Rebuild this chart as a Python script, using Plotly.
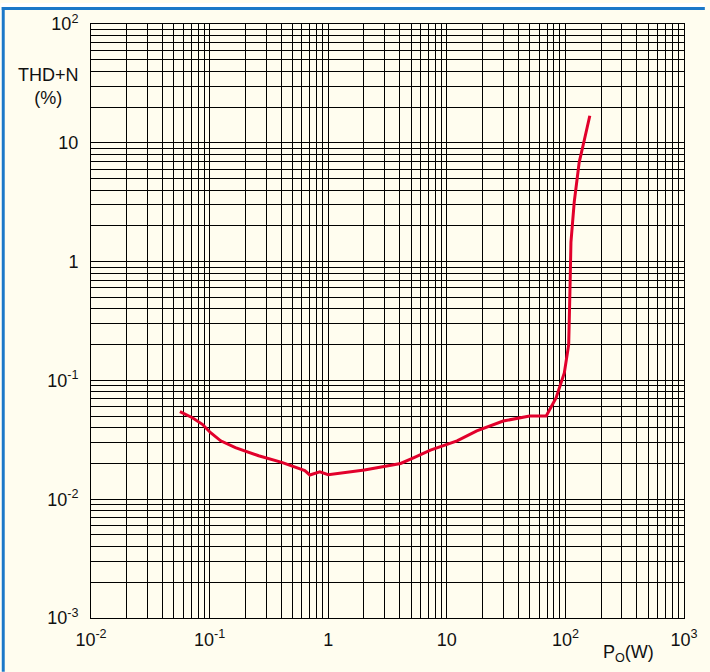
import plotly.graph_objects as go

# Output power (W)
power_w = [0.0562, 0.0716, 0.0869, 0.102, 0.124, 0.165, 0.259, 0.406, 0.635, 0.70,
           0.85, 1.0, 2.02, 4.08, 5.29, 7.28, 12.2, 17.9, 29.9, 49.9, 68.9,
           83.4, 97.9, 106.6, 109.2, 111.4, 118.7, 130.7, 143.9, 160.6]
# THD+N (%)
thd_pct = [0.0545, 0.0485, 0.0427, 0.0363, 0.031, 0.0272, 0.0232, 0.0204, 0.0174, 0.0160,
           0.0170, 0.0161, 0.0176, 0.0200, 0.0224, 0.0259, 0.031, 0.0376, 0.0455, 0.0501, 0.0501,
           0.0713, 0.1156, 0.20, 0.558, 1.46, 3.17, 6.85, 10.4, 16.9]

x_decades = [1e-2, 1e-1, 1, 10, 1e2, 1e3]
x_decade_labels = ["10<sup>-2</sup>", "10<sup>-1</sup>", "1", "10", "10<sup>2</sup>", "10<sup>3</sup>"]
y_decades = [1e-3, 1e-2, 1e-1, 1, 10, 1e2]
y_decade_labels = ["10<sup>-3</sup>", "10<sup>-2</sup>", "10<sup>-1</sup>", "1", "10", "10<sup>2</sup>"]
minor_multipliers = [2, 3, 4, 5, 6, 7, 8, 9]


def minor_vals(decades):
    return [d * m for d in decades[:-1] for m in minor_multipliers]


W, H = 710, 672
L, R, T, B = 91, 21, 21, 54
pw, ph = W - L - R, H - T - B


def px_x(p):
    return (p - L) / pw


def px_y(p):
    return (H - B - p) / ph


CREAM = "#FFFDEF"
BLUE = "#1B78C8"
FONT = "Liberation Sans, Arial, sans-serif"

fig = go.Figure()
fig.add_trace(go.Scatter(x=power_w, y=thd_pct, mode="lines",
                         line=dict(color="#E2002B", width=3), showlegend=False,
                         hoverinfo="skip"))

axis_common = dict(type="log", showgrid=True, gridcolor="#000000", gridwidth=1,
                   showline=True, linecolor="#000000", linewidth=1, mirror=True,
                   ticks="", zeroline=False, tickmode="array",
                   tickfont=dict(family=FONT, size=18, color="#111111"))

fig.update_xaxes(range=[-2, 3], tickvals=x_decades, ticktext=x_decade_labels,
                 ticklabelstandoff=5,
                 minor=dict(tickmode="array", tickvals=minor_vals(x_decades),
                            showgrid=True, gridcolor="#000000", gridwidth=1, ticks=""),
                 **axis_common)
fig.update_yaxes(range=[-3, 2], tickvals=y_decades, ticktext=y_decade_labels,
                 ticklabelstandoff=8,
                 minor=dict(tickmode="array", tickvals=minor_vals(y_decades),
                            showgrid=True, gridcolor="#000000", gridwidth=1, ticks=""),
                 **axis_common)

shapes = [
    # white strip along the very top and left edge
    dict(type="rect", xref="paper", yref="paper", layer="below",
         x0=px_x(0), x1=px_x(W), y0=px_y(4), y1=px_y(0),
         fillcolor="#FFFFFF", line=dict(width=0)),
    dict(type="rect", xref="paper", yref="paper", layer="below",
         x0=px_x(0), x1=px_x(1), y0=px_y(H), y1=px_y(0),
         fillcolor="#FFFFFF", line=dict(width=0)),
    # blue frame: top and left
    dict(type="rect", xref="paper", yref="paper", layer="below",
         x0=px_x(1), x1=px_x(W), y0=px_y(7), y1=px_y(4),
         fillcolor=BLUE, line=dict(width=0)),
    dict(type="rect", xref="paper", yref="paper", layer="below",
         x0=px_x(1), x1=px_x(4), y0=px_y(H), y1=px_y(4),
         fillcolor=BLUE, line=dict(width=0)),
]

annotations = [
    dict(text="THD+N<br>(%)", xref="paper", yref="paper", x=px_x(48), y=px_y(84),
         xanchor="center", yanchor="middle", showarrow=False, align="center",
         font=dict(family=FONT, size=18, color="#111111")),
    dict(text="P<sub>O</sub>(W)", xref="paper", yref="paper", x=px_x(633), y=px_y(654),
         xanchor="center", yanchor="middle", showarrow=False,
         font=dict(family=FONT, size=18, color="#111111")),
]

fig.update_layout(width=W, height=H, margin=dict(l=L, r=R, t=T, b=B, pad=0),
                  paper_bgcolor=CREAM, plot_bgcolor=CREAM,
                  shapes=shapes, annotations=annotations, showlegend=False)

post_js = ("document.documentElement.style.margin='0px';"
           "document.body.style.margin='0px';document.body.style.padding='0px';"
           "document.body.style.overflow='hidden';"
           "var gd=document.getElementById('{plot_id}');"
           "gd.style.position='absolute';gd.style.left='0px';gd.style.top='0px';")

fig.write_html("out.html", post_script=post_js,
               config={"displayModeBar": False, "staticPlot": True})
